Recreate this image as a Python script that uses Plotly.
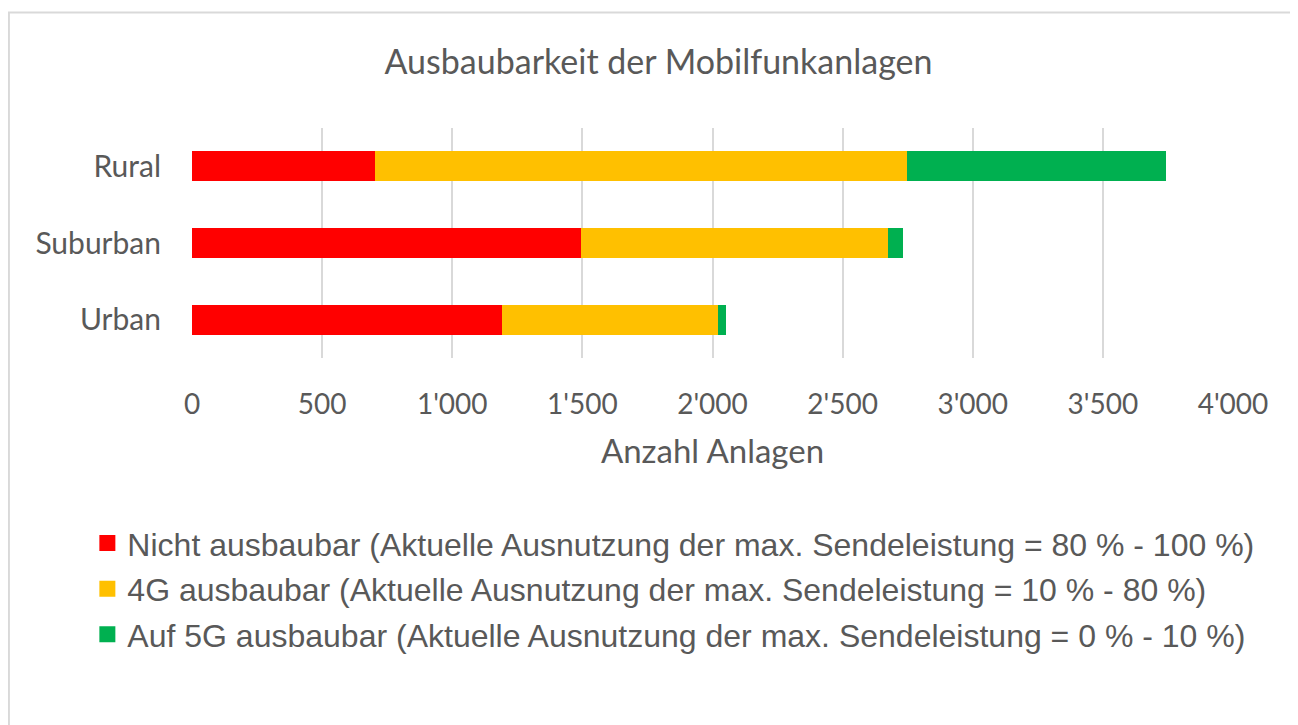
import plotly.graph_objects as go

# categories (bottom to top as drawn)
regions = ["Urban", "Suburban", "Rural"]

# number of sites per region and upgrade class
nicht_ausbaubar = [1190, 1495, 705]
ausbaubar_4g = [830, 1180, 2041]
ausbaubar_5g = [32, 58, 998]

series_names = [
    "Nicht ausbaubar (Aktuelle Ausnutzung der max. Sendeleistung = 80 % - 100 %)",
    "4G ausbaubar (Aktuelle Ausnutzung der max. Sendeleistung = 10 % - 80 %)",
    "Auf 5G ausbaubar (Aktuelle Ausnutzung der max. Sendeleistung = 0 % - 10 %)",
]
series_values = [nicht_ausbaubar, ausbaubar_4g, ausbaubar_5g]
series_colors = ["#FF0000", "#FFC000", "#00B050"]

x_ticks = [0, 500, 1000, 1500, 2000, 2500, 3000, 3500, 4000]
x_tick_labels = ["0", "500", "1'000", "1'500", "2'000", "2'500", "3'000", "3'500", "4'000"]

GREY = "#595959"
# page body has an 8px margin, so the figure is sized/placed accordingly
W, H = 1290, 717
L, R, T, B = 183.7, 1225.3, 119.5, 350.5


def px_x(p):
    return (p - L) / (R - L)


def px_y(p):
    return (B - p) / (B - T)


fig = go.Figure()
for i, (name, vals, col) in enumerate(zip(series_names, series_values, series_colors)):
    fig.add_trace(
        go.Bar(
            y=regions,
            x=vals,
            name=name,
            orientation="h",
            marker=dict(color=col, line=dict(width=0)),
            legendgroup=str(i),
            showlegend=False,
        )
    )
    # legend entry with a larger square swatch
    fig.add_trace(
        go.Scatter(
            x=[None],
            y=[None],
            mode="markers",
            name=name,
            marker=dict(symbol="square", size=16, color=col),
            legendgroup=str(i),
            showlegend=True,
        )
    )

fig.update_layout(
    width=W,
    height=H,
    barmode="stack",
    bargap=0.61,
    paper_bgcolor="white",
    plot_bgcolor="white",
    margin=dict(l=L, r=W - R, t=T, b=H - B, pad=0),
    title=dict(
        text="Ausbaubarkeit der Mobilfunkanlagen",
        x=650.5 / W,
        xanchor="center",
        y=1 - 54 / H,
        yanchor="middle",
        xref="container",
        yref="container",
        font=dict(family="Lato", size=34, color=GREY),
    ),
    legend=dict(
        x=px_x(79),
        y=px_y(509),
        xanchor="left",
        yanchor="top",
        traceorder="grouped",
        tracegroupgap=1,
        font=dict(family="Liberation Sans, Arial", size=32, color=GREY),
        bgcolor="rgba(0,0,0,0)",
    ),
    shapes=[
        dict(
            type="rect",
            xref="paper",
            yref="paper",
            x0=px_x(0.5),
            x1=px_x(1320),
            y0=px_y(745),
            y1=px_y(3.5),
            line=dict(color="#d9d9d9", width=2),
            fillcolor="rgba(0,0,0,0)",
            layer="below",
        )
    ],
)

fig.update_xaxes(
    range=[0, 4000],
    tickvals=x_ticks,
    ticktext=x_tick_labels,
    showgrid=True,
    gridcolor="#d9d9d9",
    gridwidth=2,
    zeroline=False,
    showline=False,
    ticks="",
    ticklabelstandoff=27,
    tickfont=dict(family="Lato", size=28, color=GREY),
    title=dict(text="Anzahl Anlagen", font=dict(family="Lato", size=33, color=GREY), standoff=20),
)
fig.update_yaxes(
    showgrid=False,
    zeroline=False,
    showline=False,
    ticks="",
    ticklabelstandoff=30,
    tickfont=dict(family="Lato", size=30, color=GREY),
)

fig.write_html("out.html")
